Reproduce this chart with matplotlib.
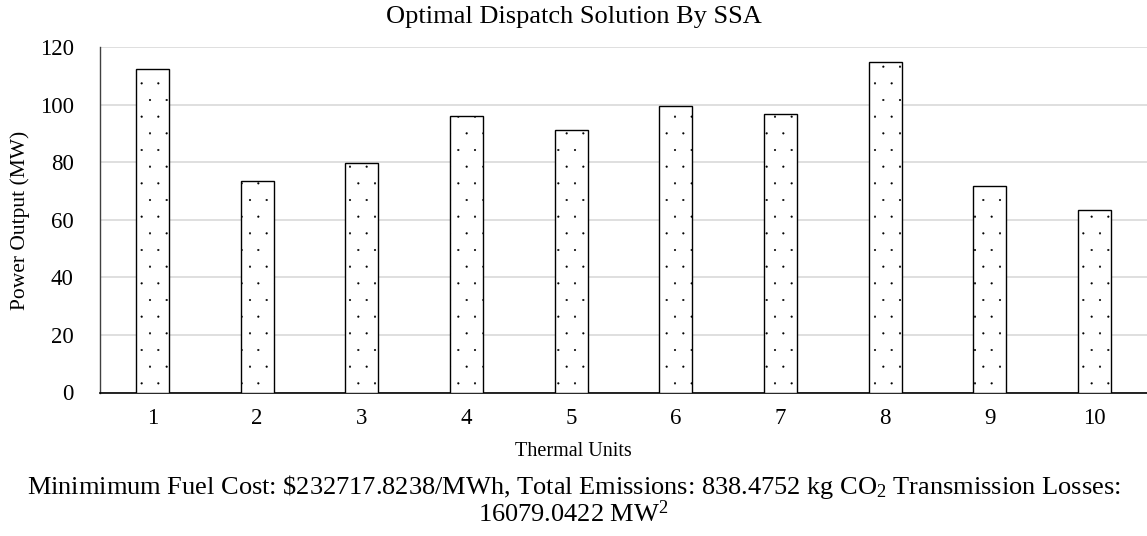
import matplotlib
matplotlib.use("Agg")
import matplotlib.pyplot as plt
import matplotlib.hatch as mhatch

plt.rcParams['font.family'] = ['Liberation Serif', 'DejaVu Serif']
plt.rcParams['mathtext.fontset'] = 'custom'
plt.rcParams['mathtext.rm'] = 'Liberation Serif'
plt.rcParams['mathtext.default'] = 'regular'
plt.rcParams['hatch.linewidth'] = 0.3
plt.rcParams['hatch.color'] = 'black'
mhatch.SmallFilledCircles.size = 0.05

units = ['1', '2', '3', '4', '5', '6', '7', '8', '9', '10']
power = [112.4, 73.6, 79.7, 96.1, 91.1, 99.7, 96.7, 115.0, 71.7, 63.5]
yticks = [0, 20, 40, 60, 80, 100, 120]

title = 'Optimal Dispatch Solution By SSA'
xlabel = 'Thermal Units'
ylabel = 'Power Output (MW)'
footer = ('Minimimum Fuel Cost: \\$232717.8238/MWh, Total Emissions: 838.4752 kg CO$_2$ Transmission Losses:\n'
          '16079.0422 MW$^2$')

fig = plt.figure(figsize=(11.47, 5.36), dpi=100)
ax = fig.add_axes([100/1147, (536-392.5)/536, 1 - 100/1147, (392.5-47.3)/536])

x = list(range(1, len(units) + 1))
ax.bar(x, power, width=0.315, color='white', edgecolor='black', linewidth=1.0, hatch='.', zorder=3)

ax.set_xlim(0.5, 10.5)
ax.set_ylim(0, 120)
ax.set_yticks(yticks)
ax.set_xticks(x)
ax.set_xticklabels(units)
ax.tick_params(axis='both', length=0, labelsize=16.5)
ax.tick_params(axis='x', pad=11)
ax.tick_params(axis='y', pad=19)
ax.grid(axis='y', color='#d9d9d9', linewidth=1.2, zorder=0)
for s in ['top', 'right']:
    ax.spines[s].set_visible(False)
ax.spines['left'].set_color('#404040')
ax.spines['left'].set_linewidth(1.0)
ax.spines['bottom'].set_color('black')
ax.spines['bottom'].set_linewidth(1.2)

fig.text(0.5, 1 - 17/536, title, ha='center', va='center', fontsize=19)
fig.text(0.5, 1 - 451/536, xlabel, ha='center', va='center', fontsize=14.5)
fig.text(20/1147, 1 - 220/536, ylabel, ha='center', va='center', rotation=90, fontsize=15.5)
fig.text(0.5, 1 - 500/536, footer, ha='center', va='center', ma='center',
         fontsize=19, linespacing=0.95)

fig.savefig('out.png', dpi=100)
